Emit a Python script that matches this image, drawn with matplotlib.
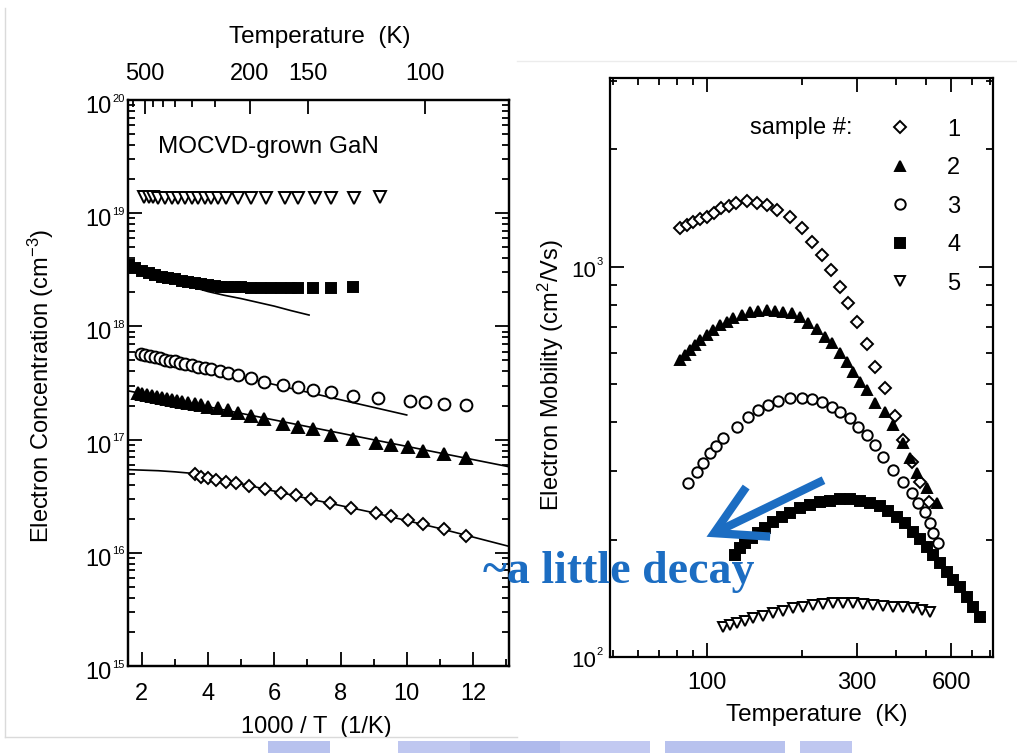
import numpy as np
import matplotlib
matplotlib.use("Agg")
import matplotlib.pyplot as plt
from matplotlib import ticker
from matplotlib.patches import FancyArrowPatch, Rectangle
from matplotlib.lines import Line2D
from matplotlib.transforms import IdentityTransform

plt.rcParams["font.family"] = ["Liberation Sans", "DejaVu Sans"]
plt.rcParams["mathtext.fontset"] = "custom"
plt.rcParams["mathtext.rm"] = "Liberation Sans"
plt.rcParams["mathtext.it"] = "Liberation Sans:italic"
plt.rcParams["mathtext.bf"] = "Liberation Sans:bold"

# ---------------- left panel: carrier concentration vs 1000/T ----------------
s5_x = [2.05, 2.2, 2.35, 2.5, 2.7, 2.9, 3.1, 3.3, 3.5, 3.7, 3.9, 4.1, 4.3, 4.55,
        4.9, 5.3, 5.76, 6.31, 6.71, 7.22, 7.72, 8.42, 9.18]
s5_n = [1.38e19, 1.38e19, 1.38e19, 1.37e19, 1.37e19, 1.37e19, 1.37e19, 1.37e19,
        1.36e19, 1.36e19, 1.36e19, 1.36e19, 1.36e19, 1.36e19, 1.36e19, 1.36e19,
        1.36e19, 1.36e19, 1.36e19, 1.37e19, 1.36e19, 1.36e19, 1.38e19]

s4_x = [1.62, 1.8, 2.0, 2.2, 2.4, 2.6, 2.8, 3.0, 3.2, 3.4, 3.6, 3.8, 4.0, 4.2,
        4.4, 4.6, 4.8, 5.0, 5.3, 5.6, 5.9, 6.2, 6.5, 6.71, 7.17, 7.72, 8.37]
s4_n = [3.5e18, 3.3e18, 3.1e18, 2.95e18, 2.83e18, 2.74e18, 2.66e18, 2.6e18,
        2.54e18, 2.48e18, 2.42e18, 2.37e18, 2.32e18, 2.28e18, 2.25e18, 2.23e18,
        2.22e18, 2.21e18, 2.2e18, 2.2e18, 2.2e18, 2.2e18, 2.2e18, 2.2e18,
        2.2e18, 2.2e18, 2.22e18]
fit4_x = [1.62, 2.0, 2.5, 3.0, 3.5, 4.0, 4.5, 5.0, 5.5, 6.0, 6.5, 7.05]
fit4_n = [3.47e18, 3.16e18, 2.82e18, 2.51e18, 2.24e18, 2.03e18, 1.88e18,
          1.76e18, 1.63e18, 1.51e18, 1.38e18, 1.26e18]

s3_x = [1.98, 2.1, 2.25, 2.4, 2.55, 2.7, 2.85, 3.0, 3.15, 3.3, 3.5, 3.7, 3.9,
        4.1, 4.35, 4.6, 4.9, 5.3, 5.7, 6.26, 6.71, 7.17, 7.72, 8.37, 9.13,
        10.09, 10.54, 11.14, 11.8]
s3_n = [5.70e17, 5.60e17, 5.47e17, 5.35e17, 5.22e17, 5.10e17, 4.99e17, 4.90e17,
        4.79e17, 4.68e17, 4.54e17, 4.42e17, 4.29e17, 4.17e17, 4.03e17, 3.89e17,
        3.72e17, 3.47e17, 3.25e17, 3.03e17, 2.90e17, 2.74e17, 2.62e17, 2.44e17,
        2.32e17, 2.21e17, 2.14e17, 2.07e17, 2.02e17]
fit3_x = [2.0, 10.0]
fit3_n = [5.69e17, 1.65e17]

s2_x = [1.88, 2.0, 2.15, 2.3, 2.45, 2.6, 2.75, 2.9, 3.05, 3.2, 3.4, 3.6, 3.8,
        4.0, 4.3, 4.6, 4.9, 5.3, 5.7, 6.26, 6.71, 7.17, 7.72, 8.37, 9.08, 9.53,
        10.04, 10.49, 11.14, 11.8]
s2_n = [2.56e17, 2.52e17, 2.48e17, 2.43e17, 2.38e17, 2.34e17, 2.30e17, 2.25e17,
        2.21e17, 2.17e17, 2.12e17, 2.07e17, 2.01e17, 1.96e17, 1.89e17, 1.82e17,
        1.71e17, 1.61e17, 1.51e17, 1.36e17, 1.30e17, 1.23e17, 1.10e17, 1.02e17,
        9.38e16, 8.91e16, 8.55e16, 7.98e16, 7.46e16, 6.92e16]
fit2_x = [1.6, 13.1]
fit2_n = [2.69e17, 5.75e16]

s1_x = [3.59, 3.79, 3.99, 4.25, 4.55, 4.85, 5.25, 5.71, 6.21, 6.66, 7.12, 7.67,
        8.32, 9.08, 9.53, 10.04, 10.49, 11.14, 11.8]
s1_n = [4.97e16, 4.70e16, 4.55e16, 4.40e16, 4.25e16, 4.11e16, 3.89e16, 3.64e16,
        3.40e16, 3.24e16, 2.96e16, 2.74e16, 2.51e16, 2.24e16, 2.11e16, 1.95e16,
        1.79e16, 1.61e16, 1.41e16]
fit1_x = [1.58, 2.5, 3.0, 3.6, 5.0, 7.0, 9.0, 11.0, 13.09]
fit1_n = [5.43e16, 5.31e16, 5.19e16, 5.01e16, 4.07e16, 3.02e16, 2.26e16,
          1.64e16, 1.14e16]

bottom_ticks = [2, 4, 6, 8, 10, 12]
top_temps = [500, 200, 150, 100]
top_minor_temps = [600, 450, 400, 350, 300, 250]
conc_exps = [15, 16, 17, 18, 19, 20]

# ---------------- right panel: Hall mobility vs T ----------------
m1_T = [82, 86, 90, 95, 100, 105, 111, 117, 124, 134, 144, 155, 167, 184, 200,
        216, 232, 249, 265, 282, 300, 323, 343, 369, 397, 422, 449, 477, 510]
m1_mu = [1257, 1281, 1307, 1325, 1346, 1373, 1414, 1434, 1462, 1479, 1462, 1443,
         1400, 1346, 1257, 1161, 1073, 983, 890, 807, 724, 635, 555, 489, 415,
         360, 317, 281, 250]

m2_T = [82.0, 85.1, 88.3, 91.6, 95.0, 99.8, 104.7, 110.0, 115.5, 121.3, 129.0,
        137.0, 145.7, 155.0, 164.7, 175.0, 186.1, 197.8, 210.2, 223.6, 237.6,
        249.6, 265.3, 278.6, 292.4, 307.2, 322.6, 342.8, 368.9, 391.2, 421.0,
        443.2, 466.6, 501.9, 540.2]
m2_mu = [577, 595, 613, 631, 650, 669, 690, 710, 724, 739, 753, 765, 773, 776,
         773, 768, 761, 743, 717, 692, 663, 637, 601, 572, 539, 508, 484, 447,
         425, 393, 354, 324, 296, 271, 248]

m3_T = [87.0, 92.9, 97.1, 102.2, 107.0, 112.4, 124.6, 135.1, 145.4, 156.4, 168.3,
        183.8, 200.7, 216.0, 232.4, 250.0, 265.0, 285.4, 302.7, 323.3, 342.8,
        363.4, 391.0, 421.0, 450.0, 470.0, 495.0, 513.0, 525.0, 545.0]
m3_mu = [279, 298, 314, 333, 348, 364, 389, 412, 430, 443, 453, 461, 461, 459,
         451, 438, 425, 410, 389, 371, 350, 326, 302, 281, 263, 248, 236, 221,
         208, 196]

m4_T = [122.8, 127.4, 132.1, 138.8, 145.7, 153.0, 162.6, 172.9, 183.8, 197.8,
        212.8, 229.1, 246.4, 265.3, 285.4, 307.2, 330.5, 355.6, 378.0, 402.1,
        427.2, 453.9, 476.9, 500.9, 525.6, 552.1, 580.1, 608.9, 639.5, 671.7,
        704.9, 740.5]
m4_mu = [182.6, 190.0, 195.7, 201.6, 207.6, 213.8, 222.3, 229.0, 234.4, 240.6,
         245.4, 249.2, 251.6, 253.7, 253.7, 251.6, 248.7, 243.9, 237.2, 229.0,
         220.3, 209.6, 200.4, 191.8, 182.6, 173.9, 165.4, 157.5, 150.9, 142.7,
         134.6, 126.9]

m5_T = [112.7, 118.4, 124.3, 132.1, 140.4, 151.1, 162.6, 175.0, 188.3, 202.6,
        218.1, 234.6, 252.5, 271.7, 292.4, 314.6, 338.6, 364.3, 392.0, 422.0,
        453.9, 482.9, 513.2]
m5_mu = [119.6, 120.8, 122.0, 123.7, 125.7, 127.4, 129.4, 131.2, 133.3, 134.6,
         135.9, 136.8, 137.3, 137.3, 137.3, 136.8, 135.9, 135.3, 134.6, 134.1,
         133.3, 132.0, 130.7]

sample_labels = ["1", "2", "3", "4", "5"]
temp_ticks = [100, 300, 600]
temp_minor = [50, 60, 70, 80, 90, 200, 400, 500, 700, 800]
mob_exps = [2, 3]

BLUE = "#1c6dc2"
W, H = 1017, 753

fig = plt.figure(figsize=(W / 100, H / 100), dpi=100)
fig.patch.set_facecolor("white")


def px_axes(x0, y0, x1, y1):
    """Axes rectangle from pixel box (top-left origin)."""
    return fig.add_axes([x0 / W, 1 - y1 / H, (x1 - x0) / W, (y1 - y0) / H])


def pow_labels(ax, exps, base_dx, base_dy, exp_dy, base_size, exp_size):
    tr = ax.get_yaxis_transform()
    for e in exps:
        ax.annotate("10", xy=(0, 10.0 ** e), xycoords=tr, xytext=(base_dx, base_dy),
                    textcoords="offset points", ha="right", va="center",
                    fontsize=base_size, annotation_clip=False)
        ax.annotate(str(e), xy=(0, 10.0 ** e), xycoords=tr, xytext=(base_dx + 0.5, exp_dy),
                    textcoords="offset points", ha="left", va="center",
                    fontsize=exp_size, annotation_clip=False)


def style_spines(ax):
    for s in ax.spines.values():
        s.set_linewidth(1.6)


mk = dict(linestyle="none", color="black", mew=1.4)

# ---- left axes ----
ax1 = px_axes(128, 100, 509, 666)
ax1.set_yscale("log")
ax1.set_xlim(1.58, 13.09)
ax1.set_ylim(1e15, 1e20)

ax1.plot(fit1_x, fit1_n, color="black", lw=1.2)
ax1.plot(fit2_x, fit2_n, color="black", lw=1.2)
ax1.plot(fit3_x, fit3_n, color="black", lw=1.2)
ax1.plot(fit4_x, fit4_n, color="black", lw=1.2)

ax1.plot(s5_x, s5_n, marker="v", ms=8, mfc="white", **mk)
ax1.plot(s4_x, s4_n, marker="s", ms=7.5, mfc="black", **mk)
ax1.plot(s3_x, s3_n, marker="o", ms=8.5, mfc="white", **mk)
ax1.plot(s2_x, s2_n, marker="^", ms=8.5, mfc="black", **mk)
ax1.plot(s1_x, s1_n, marker="D", ms=6.5, mfc="white", **mk)

ax1.set_xticks(bottom_ticks)
ax1.xaxis.set_minor_locator(ticker.FixedLocator([3, 5, 7, 9, 11, 13]))
ax1.yaxis.set_major_locator(ticker.FixedLocator([10.0 ** e for e in conc_exps]))
ax1.yaxis.set_minor_locator(ticker.LogLocator(base=10, subs=np.arange(2, 10), numticks=20))
ax1.yaxis.set_major_formatter(ticker.NullFormatter())
ax1.yaxis.set_minor_formatter(ticker.NullFormatter())
ax1.tick_params(which="both", direction="in", left=True, right=True, top=False,
                bottom=True, width=1.3)
ax1.tick_params(which="major", length=10, labelsize=17, pad=12)
ax1.tick_params(which="minor", length=5)
style_spines(ax1)
pow_labels(ax1, conc_exps, -12, -5, 1, 17, 8)

ax1.set_xlabel("1000 / T  (1/K)", fontsize=17)
ax1.xaxis.set_label_coords(0.493, -0.088)
ax1.set_ylabel("Electron Concentration (cm$^{\\mathregular{-3}}$)", fontsize=17)
ax1.yaxis.set_label_coords(-0.19, 0.495)
ax1.text(0.079, 0.917, "MOCVD-grown GaN", transform=ax1.transAxes, fontsize=17.5,
         ha="left", va="center")

ax1t = ax1.twiny()
ax1t.set_xlim(1.514, 12.4)
ax1t.set_xticks([1000.0 / t for t in top_temps])
ax1t.set_xticklabels([str(t) for t in top_temps])
ax1t.xaxis.set_minor_locator(ticker.FixedLocator([1000.0 / t for t in top_minor_temps]))
ax1t.tick_params(which="both", direction="in", top=True, bottom=False, width=1.3)
ax1t.tick_params(which="major", length=10, labelsize=17, pad=11)
ax1t.tick_params(which="minor", length=5)
ax1t.set_xlabel("Temperature  (K)", fontsize=17.5)
ax1t.xaxis.set_label_coords(0.503, 1.10)
style_spines(ax1t)

# ---- right axes ----
ax2 = px_axes(610, 78, 993, 657)
ax2.set_xscale("log")
ax2.set_yscale("log")
ax2.set_xlim(49, 815)
ax2.set_ylim(100, 3050)

h1, = ax2.plot(m1_T, m1_mu, marker="D", ms=6, mfc="white", **mk)
h2, = ax2.plot(m2_T, m2_mu, marker="^", ms=7.5, mfc="black", **mk)
h3, = ax2.plot(m3_T, m3_mu, marker="o", ms=7.5, mfc="white", **mk)
h4, = ax2.plot(m4_T, m4_mu, marker="s", ms=7, mfc="black", **mk)
h5, = ax2.plot(m5_T, m5_mu, marker="v", ms=7.5, mfc="white", **mk)

ax2.xaxis.set_major_locator(ticker.FixedLocator(temp_ticks))
ax2.xaxis.set_major_formatter(ticker.FixedFormatter([str(t) for t in temp_ticks]))
ax2.xaxis.set_minor_locator(ticker.FixedLocator(temp_minor))
ax2.xaxis.set_minor_formatter(ticker.NullFormatter())
ax2.yaxis.set_major_locator(ticker.FixedLocator([10.0 ** e for e in mob_exps]))
ax2.yaxis.set_minor_locator(ticker.LogLocator(base=10, subs=np.arange(2, 10), numticks=20))
ax2.yaxis.set_major_formatter(ticker.NullFormatter())
ax2.yaxis.set_minor_formatter(ticker.NullFormatter())
ax2.tick_params(which="both", direction="in", left=True, right=True, top=True,
                bottom=True, width=1.3)
ax2.tick_params(which="major", length=10, labelsize=17, pad=11)
ax2.tick_params(which="minor", length=5)
style_spines(ax2)
pow_labels(ax2, mob_exps, -10, -3, 3.5, 16, 8)

ax2.set_xlabel("Temperature  (K)", fontsize=17.5)
ax2.xaxis.set_label_coords(0.54, -0.082)
ax2.set_ylabel("Electron Mobility (cm$^{\\mathregular{2}}$/Vs)", fontsize=17)
ax2.yaxis.set_label_coords(-0.115, 0.487)

ax2.text(0.634, 0.9136, "sample #:", transform=ax2.transAxes, fontsize=17,
         ha="right", va="center")
ax2.legend([h1, h2, h3, h4, h5], sample_labels, loc="upper left",
           bbox_to_anchor=(0.726, 0.930), frameon=False, fontsize=17,
           handlelength=1.0, handletextpad=1.5, labelspacing=0.70,
           borderpad=0, borderaxespad=0, markerscale=1.0)

# ---- annotation on top of both panels ----
fig.add_artist(FancyArrowPatch(posA=(826, H - 479), posB=(704, H - 538),
                               transform=IdentityTransform(),
                               arrowstyle="->,head_length=1.1,head_width=0.62",
                               mutation_scale=32, lw=6, color=BLUE,
                               capstyle="butt", joinstyle="miter"))
fig.text(483 / W, 1 - 583 / H, "~a little decay", fontsize=33, color=BLUE,
         family="Liberation Serif", fontweight="bold", ha="left", va="baseline")

# ---- page edges ----
edge = "#dadada"
fig.add_artist(Line2D([5, 5], [H - 8, H - 737], transform=IdentityTransform(),
                      color=edge, lw=1))
fig.add_artist(Line2D([5, 517], [H - 737, H - 737], transform=IdentityTransform(),
                      color=edge, lw=1))
fig.add_artist(Line2D([517, 1017], [H - 61, H - 61], transform=IdentityTransform(),
                      color="#ececec", lw=1))
for x0, x1, c in [(268, 330, "#9aa8e8"), (398, 470, "#a5b0ea"), (470, 560, "#8e9de4"),
                  (560, 650, "#a9b3ec"), (665, 785, "#9aa8e8"), (800, 852, "#a5b0ea")]:
    fig.add_artist(Rectangle((x0, 0), x1 - x0, 12, transform=IdentityTransform(),
                             facecolor=c, edgecolor="none", alpha=0.7))

fig.savefig("out.png", dpi=100, facecolor="white")
